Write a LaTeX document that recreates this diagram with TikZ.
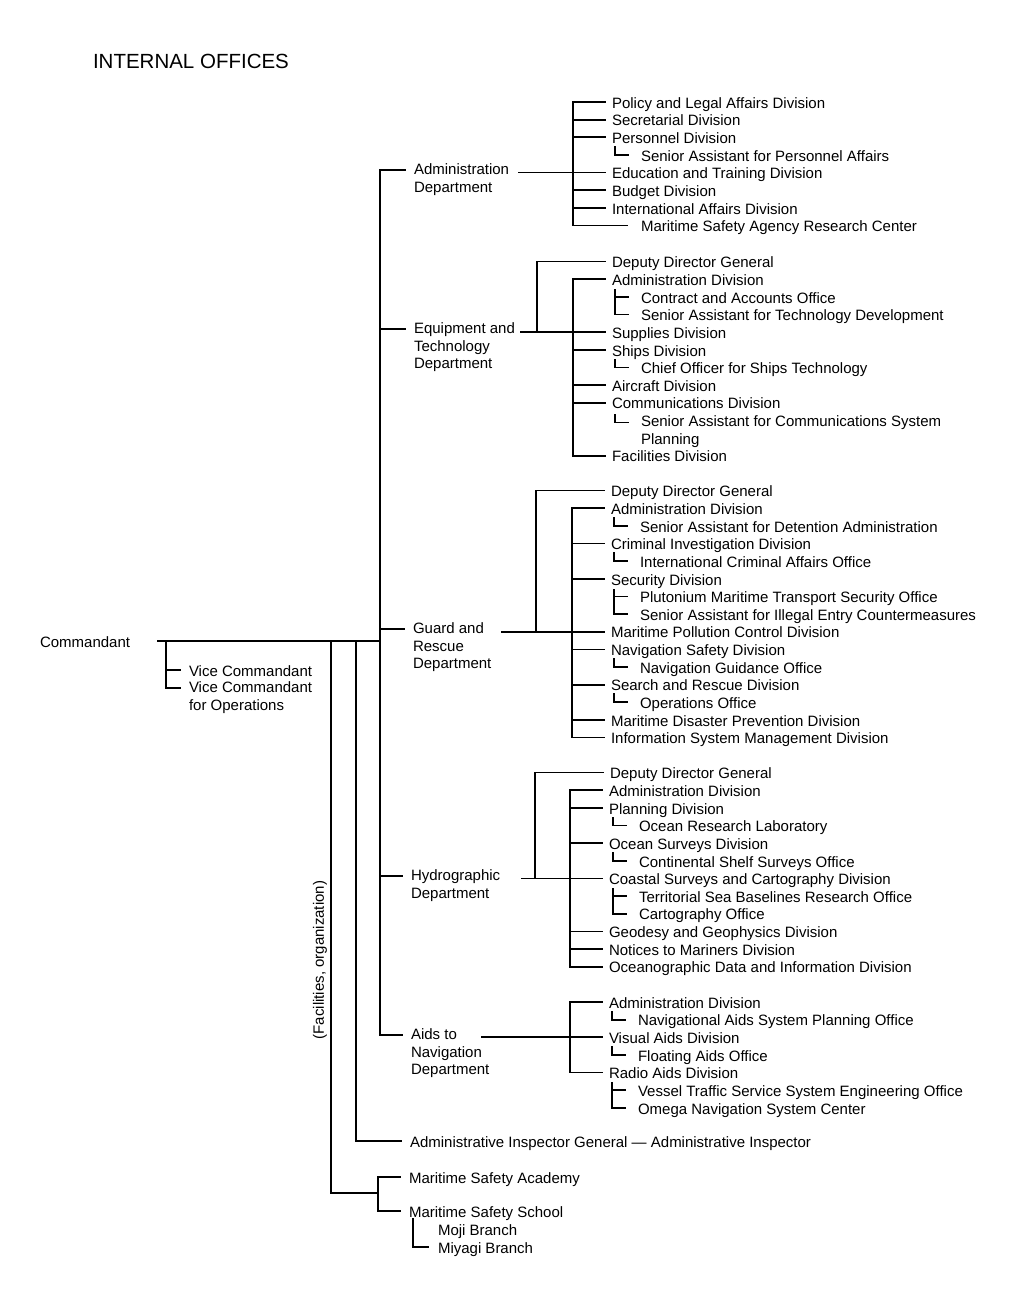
\documentclass[tikz,border=0pt]{standalone}
\usepackage{fontspec}
\setmainfont{Liberation Sans}
\newcommand\lblfont{\fontsize{15}{17.65}\selectfont}
\newcommand\ttlfont{\fontsize{20.5}{24}\selectfont}
\tikzset{
  every node/.style={inner sep=0pt, outer sep=0pt, font=\lblfont},
  itm/.style={anchor=west, text height=14pt, text depth=1.5pt},
  mline/.style={anchor=north west, align=left},
  ln/.style={line width=1.7pt, line cap=rect}
}
\newcommand\tk[3]{\draw[ln] (#1 |- #2.west) -- ([xshift=-#3pt]#2.west);}
\newcommand\subL[1]{\draw[ln] ([xshift=-26pt,yshift=8pt]#1) |- ([xshift=-13pt]#1);}
\newcommand\subLL[2]{\draw[ln] ([xshift=-26pt,yshift=7pt]#1.west) |- ([xshift=-13pt]#2.west);
  \draw[ln] ([xshift=-26pt]#1.west) -- ([xshift=-13pt]#1.west);}
\begin{document}
\begin{tikzpicture}[x=1pt,y=-1pt]
\useasboundingbox[fill=white] (0,0) rectangle (1021,1297);
\node[anchor=west, font=\ttlfont] (title) at (93,61) {INTERNAL OFFICES};

% ---------- Administration Department
\node[mline] (admD) at (414,163.6) {Administration\\Department};
\coordinate (admL) at ([yshift=-6.4pt]admD.north west);
\node[itm] (pol) at (612,102) {Policy and Legal Affairs Division};
\node[itm] (sec) at (612,119.7) {Secretarial Division};
\node[itm] (per) at (612,137.3) {Personnel Division};
\node[itm] (spa) at (641,155) {Senior Assistant for Personnel Affairs};
\node[itm] (edu) at (612,172.6) {Education and Training Division};
\node[itm] (bud) at (612,190.3) {Budget Division};
\node[itm] (iad) at (612,207.9) {International Affairs Division};
\node[itm] (rc) at (641,225.6) {Maritime Safety Agency Research Center};
\coordinate (AB) at (573,0);
\draw[ln] ([xshift=-7pt]edu.west) -- ++(-86,0);
\draw[ln] (AB |- pol.west) -- (AB |- rc.west);
\tk{AB}{pol}{7}\tk{AB}{sec}{7}\tk{AB}{per}{7}\tk{AB}{bud}{7}\tk{AB}{iad}{7}\tk{AB}{rc}{14}
\subL{spa.west}

% ---------- Equipment and Technology Department
\node[mline] (eqD) at (414,322.6) {Equipment and\\Technology\\Department};
\coordinate (eqL) at ([yshift=-6.4pt]eqD.north west);
\node[itm] (eddg) at (612,261.5) {Deputy Director General};
\node[itm] (ead) at (612,279.2) {Administration Division};
\node[itm] (eca) at (641,296.8) {Contract and Accounts Office};
\node[itm] (etd) at (641,314.5) {Senior Assistant for Technology Development};
\node[itm] (esu) at (612,332.1) {Supplies Division};
\node[itm] (esh) at (612,349.8) {Ships Division};
\node[itm] (eco) at (641,367.4) {Chief Officer for Ships Technology};
\node[itm] (eai) at (612,385.1) {Aircraft Division};
\node[itm] (ecm) at (612,402.7) {Communications Division};
\node[mline] (ecs) at (641,415.5) {Senior Assistant for Communications System\\Planning};
\coordinate (ecsL) at ([yshift=-7pt]ecs.north west);
\node[itm] (efa) at (612,455.7) {Facilities Division};
\coordinate (EDB) at (537,0);
\coordinate (EB) at (573,0);
\draw[ln] ([xshift=-7pt]esu.west) -- ++(-84,0);
\draw[ln] (EDB |- esu.west) |- ([xshift=-7pt]eddg.west);
\draw[ln] (EB |- ead.west) -- (EB |- efa.west);
\tk{EB}{ead}{7}\tk{EB}{esh}{7}\tk{EB}{eai}{7}\tk{EB}{ecm}{7}\tk{EB}{efa}{7}
\subLL{eca}{etd}
\subL{eco.west}
\subL{ecsL}

% ---------- Guard and Rescue Department
\node[mline] (grD) at (413,622.6) {Guard and\\Rescue\\Department};
\coordinate (grL) at ([yshift=-6.4pt]grD.north west);
\node[itm] (gddg) at (611,490.5) {Deputy Director General};
\node[itm] (gad) at (611,508.2) {Administration Division};
\node[itm] (gda) at (640,525.8) {Senior Assistant for Detention Administration};
\node[itm] (gci) at (611,543.5) {Criminal Investigation Division};
\node[itm] (gic) at (640,561.1) {International Criminal Affairs Office};
\node[itm] (gse) at (611,578.8) {Security Division};
\node[itm] (gpl) at (640,596.4) {Plutonium Maritime Transport Security Office};
\node[itm] (gil) at (640,614.1) {Senior Assistant for Illegal Entry Countermeasures};
\node[itm] (gpo) at (611,631.7) {Maritime Pollution Control Division};
\node[itm] (gns) at (611,649.4) {Navigation Safety Division};
\node[itm] (gng) at (640,667) {Navigation Guidance Office};
\node[itm] (gsr) at (611,684.7) {Search and Rescue Division};
\node[itm] (gop) at (640,702.3) {Operations Office};
\node[itm] (gmd) at (611,720) {Maritime Disaster Prevention Division};
\node[itm] (gis) at (611,737.6) {Information System Management Division};
\coordinate (GDB) at (536,0);
\coordinate (GB) at (572,0);
\draw[ln] ([xshift=-7pt]gpo.west) -- ++(-102,0);
\draw[ln] (GDB |- gpo.west) |- ([xshift=-7pt]gddg.west);
\draw[ln] (GB |- gad.west) -- (GB |- gis.west);
\tk{GB}{gad}{7}\tk{GB}{gci}{7}\tk{GB}{gse}{7}\tk{GB}{gns}{7}\tk{GB}{gsr}{7}\tk{GB}{gmd}{7}\tk{GB}{gis}{7}
\subL{gda.west}
\subL{gic.west}
\subLL{gpl}{gil}
\subL{gng.west}
\subL{gop.west}

% ---------- Hydrographic Department
\node[mline] (hyD) at (411,869.6) {Hydrographic\\Department};
\coordinate (hyL) at ([yshift=-6.4pt]hyD.north west);
\node[itm] (hddg) at (610,772.5) {Deputy Director General};
\node[itm] (had) at (609,790.2) {Administration Division};
\node[itm] (hpl) at (609,807.8) {Planning Division};
\node[itm] (hor) at (639,825.5) {Ocean Research Laboratory};
\node[itm] (hos) at (609,843.1) {Ocean Surveys Division};
\node[itm] (hcs) at (639,860.8) {Continental Shelf Surveys Office};
\node[itm] (hco) at (609,878.4) {Coastal Surveys and Cartography Division};
\node[itm] (hts) at (639,896.1) {Territorial Sea Baselines Research Office};
\node[itm] (hca) at (639,913.7) {Cartography Office};
\node[itm] (hgg) at (609,931.4) {Geodesy and Geophysics Division};
\node[itm] (hnm) at (609,949) {Notices to Mariners Division};
\node[itm] (hod) at (609,966.7) {Oceanographic Data and Information Division};
\coordinate (HDB) at (535,0);
\coordinate (HB) at (570,0);
\draw[ln] ([xshift=-7pt]hco.west) -- ++(-80,0);
\draw[ln] (HDB |- hco.west) |- ([xshift=-7pt]hddg.west);
\draw[ln] (HB |- had.west) -- (HB |- hod.west);
\tk{HB}{had}{7}\tk{HB}{hpl}{7}\tk{HB}{hos}{7}\tk{HB}{hgg}{7}\tk{HB}{hnm}{7}\tk{HB}{hod}{7}
\subL{hor.west}
\subL{hcs.west}
\subLL{hts}{hca}

% ---------- Aids to Navigation Department
\node[mline] (aiD) at (411,1028.6) {Aids to\\Navigation\\Department};
\coordinate (aiL) at ([yshift=-6.4pt]aiD.north west);
\node[itm] (aad) at (609,1002) {Administration Division};
\node[itm] (ana) at (638,1019.7) {Navigational Aids System Planning Office};
\node[itm] (avi) at (609,1037.3) {Visual Aids Division};
\node[itm] (afl) at (638,1055) {Floating Aids Office};
\node[itm] (ara) at (609,1072.6) {Radio Aids Division};
\node[itm] (avt) at (638,1090.3) {Vessel Traffic Service System Engineering Office};
\node[itm] (aom) at (638,1107.9) {Omega Navigation System Center};
\coordinate (NB) at (570,0);
\draw[ln] ([xshift=-7pt]avi.west) -- ++(-120,0);
\draw[ln] (NB |- aad.west) -- (NB |- ara.west);
\tk{NB}{aad}{7}\tk{NB}{ara}{7}
\subL{ana.west}
\subL{afl.west}
\subLL{avt}{aom}

% ---------- Commandant and trunk
\node[itm] (cmd) at (40,641) {Commandant};
\node[itm] (vc1) at (189,670) {Vice Commandant};
\node[mline] (vc2) at (189,681.6) {Vice Commandant\\for Operations};
\coordinate (vc2L) at ([yshift=-6.4pt]vc2.north west);
\coordinate (T) at (380,0);
\coordinate (VB) at (166,0);
\coordinate (L1) at (356,0);
\coordinate (L2) at (331,0);
\draw[ln] (T |- admL) -- (T |- aiL);
\draw[ln] (T |- admL) -- ([xshift=-9pt]admL);
\draw[ln] (T |- eqL) -- ([xshift=-9pt]eqL);
\draw[ln] (T |- grL) -- ([xshift=-9pt]grL);
\draw[ln] (T |- hyL) -- ([xshift=-9pt]hyL);
\draw[ln] (T |- aiL) -- ([xshift=-9pt]aiL);
\draw[ln] ([xshift=28pt]cmd.east) -- (T |- cmd.east);
\draw[ln] (VB |- cmd.east) |- ([xshift=-9pt]vc2L);
\draw[ln] (VB |- vc1.west) -- ([xshift=-9pt]vc1.west);

% ---------- Inspector, academy, school
\node[itm] (ai) at (410,1141) {Administrative Inspector General --- Administrative Inspector};
\node[itm] (msa) at (409,1177) {Maritime Safety Academy};
\node[itm] (mss) at (409,1211) {Maritime Safety School};
\node[itm] (moji) at (438,1229) {Moji Branch};
\node[itm] (miy) at (438,1247) {Miyagi Branch};
\coordinate (sbm) at (378,1193);
\draw[ln] (L1 |- cmd.east) |- ([xshift=-9pt]ai.west);
\draw[ln] (L2 |- cmd.east) |- (sbm);
\draw[ln] ([xshift=-9pt]msa.west) -| (sbm) |- ([xshift=-9pt]mss.west);
\draw[ln] ([xshift=-25pt,yshift=10pt]moji.west) |- ([xshift=-10pt]miy.west);
\node[rotate=90] (fac) at (320,960) {(Facilities, organization)};
\end{tikzpicture}
\end{document}
